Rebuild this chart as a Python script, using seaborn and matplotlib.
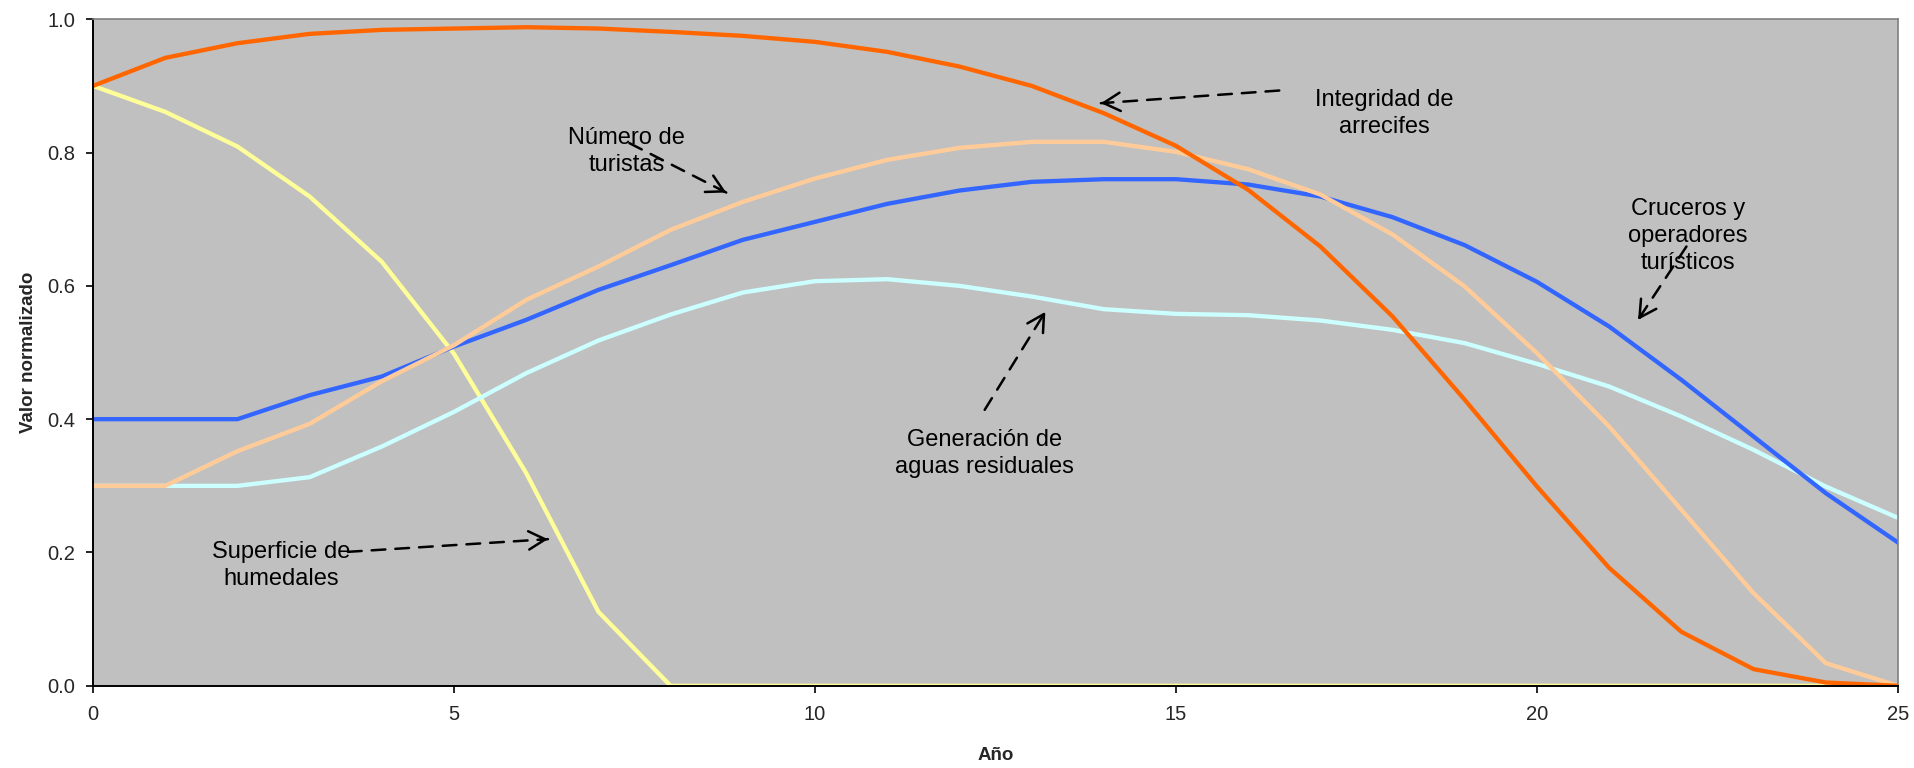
import numpy as np
import pandas as pd
import matplotlib
matplotlib.use("Agg")
import matplotlib.pyplot as plt
import seaborn as sns

# ==================== 数据 ====================
years = list(range(26))
integridad = [0.900, 0.942, 0.964, 0.978, 0.984, 0.986, 0.988, 0.986, 0.981, 0.975,
              0.966, 0.951, 0.929, 0.900, 0.859, 0.810, 0.744, 0.659, 0.554, 0.429,
              0.299, 0.177, 0.081, 0.025, 0.005, 0.000]
humedales = [0.900, 0.861, 0.809, 0.734, 0.636, 0.498, 0.319, 0.111, 0.000, 0.000,
             0.000, 0.000, 0.000, 0.000, 0.000, 0.000, 0.000, 0.000, 0.000, 0.000,
             0.000, 0.000, 0.000, 0.000, 0.000, 0.000]
cruceros = [0.400, 0.400, 0.400, 0.436, 0.464, 0.509, 0.549, 0.594, 0.631, 0.669,
            0.696, 0.723, 0.743, 0.756, 0.760, 0.760, 0.752, 0.734, 0.703, 0.661,
            0.606, 0.539, 0.459, 0.374, 0.289, 0.215]
turistas = [0.300, 0.300, 0.352, 0.393, 0.457, 0.511, 0.579, 0.629, 0.684, 0.726,
            0.761, 0.789, 0.807, 0.816, 0.816, 0.801, 0.775, 0.737, 0.677, 0.599,
            0.499, 0.389, 0.264, 0.139, 0.034, 0.000]
aguas = [0.300, 0.300, 0.300, 0.313, 0.359, 0.411, 0.469, 0.518, 0.557, 0.590,
         0.607, 0.610, 0.600, 0.584, 0.565, 0.558, 0.556, 0.548, 0.534, 0.514,
         0.483, 0.449, 0.404, 0.354, 0.299, 0.252]

# orden de dibujo: la última queda encima
series = [
    ("Superficie de humedales", humedales, "#FFFF99"),
    ("Generación de aguas residuales", aguas, "#CCFFFF"),
    ("Cruceros y operadores turísticos", cruceros, "#3366FF"),
    ("Número de turistas", turistas, "#FFCC99"),
    ("Integridad de arrecifes", integridad, "#FF6600"),
]

# texto, centro del texto, cola de flecha, punta de flecha (coordenadas de datos)
labels = [
    ("Integridad de\narrecifes", (17.88, 0.859), (16.43, 0.893), (13.96, 0.874)),
    ("Número de\nturistas", (7.39, 0.801), (7.43, 0.814), (8.77, 0.740)),
    ("Superficie de\nhumedales", (2.60, 0.180), (3.53, 0.201), (6.30, 0.220)),
    ("Generación de\naguas residuales", (12.35, 0.348), (12.35, 0.414), (13.19, 0.561)),
    ("Cruceros y\noperadores\nturísticos", (22.09, 0.675), (22.07, 0.659), (21.40, 0.549)),
]

# ==================== 绘图 ====================
sns.set_style("ticks")
plt.rcParams['font.family'] = ['Liberation Sans', 'DejaVu Sans']

fig = plt.figure(figsize=(19.15, 7.68), dpi=100)
ax = fig.add_axes([0.0486, 0.107, 0.9425, 0.868])
ax.set_facecolor("#C0C0C0")

for name, vals, color in series:
    df = pd.DataFrame({"Año": years, "valor": vals})
    sns.lineplot(data=df, x="Año", y="valor", color=color, linewidth=3.1, ax=ax)

for text, (tx, ty), tail, tip in labels:
    ax.text(tx, ty, text, ha="center", va="center", fontsize=17,
            linespacing=1.3, color="black", zorder=5)
    # línea discontinua
    ax.annotate("", xy=tip, xytext=tail,
                arrowprops=dict(arrowstyle="-", lw=1.8, color="black",
                                linestyle=(0, (5.5, 4)), shrinkA=0, shrinkB=0),
                zorder=6)
    # cabeza de flecha sólida
    back = (tip[0] + 0.04 * (tail[0] - tip[0]), tip[1] + 0.04 * (tail[1] - tip[1]))
    ax.annotate("", xy=tip, xytext=back,
                arrowprops=dict(arrowstyle="->,head_length=1.0,head_width=0.55",
                                mutation_scale=12, lw=1.8, color="black",
                                shrinkA=0, shrinkB=0),
                zorder=6)

ax.set_xlim(0, 25)
ax.set_ylim(0, 1.0)
ax.set_xticks([0, 5, 10, 15, 20, 25])
ax.set_yticks([0.0, 0.2, 0.4, 0.6, 0.8, 1.0])
ax.set_yticklabels(["0.0", "0.2", "0.4", "0.6", "0.8", "1.0"])
ax.tick_params(axis="both", labelsize=14.5, length=5, width=1.2, color="black",
               direction="out")
ax.tick_params(axis="x", pad=9)
ax.tick_params(axis="y", pad=8)

for side in ["left", "bottom"]:
    ax.spines[side].set_color("black")
    ax.spines[side].set_linewidth(1.4)
for side in ["top", "right"]:
    ax.spines[side].set_visible(True)
    ax.spines[side].set_color("#808080")
    ax.spines[side].set_linewidth(1.2)

ax.set_xlabel("Año", fontsize=13.5, fontweight="bold")
ax.set_ylabel("Valor normalizado", fontsize=13.5, fontweight="bold")
ax.xaxis.set_label_coords(0.5, -0.092)
ax.yaxis.set_label_coords(-0.031, 0.5)

fig.savefig("out.png", dpi=100, facecolor="white")
